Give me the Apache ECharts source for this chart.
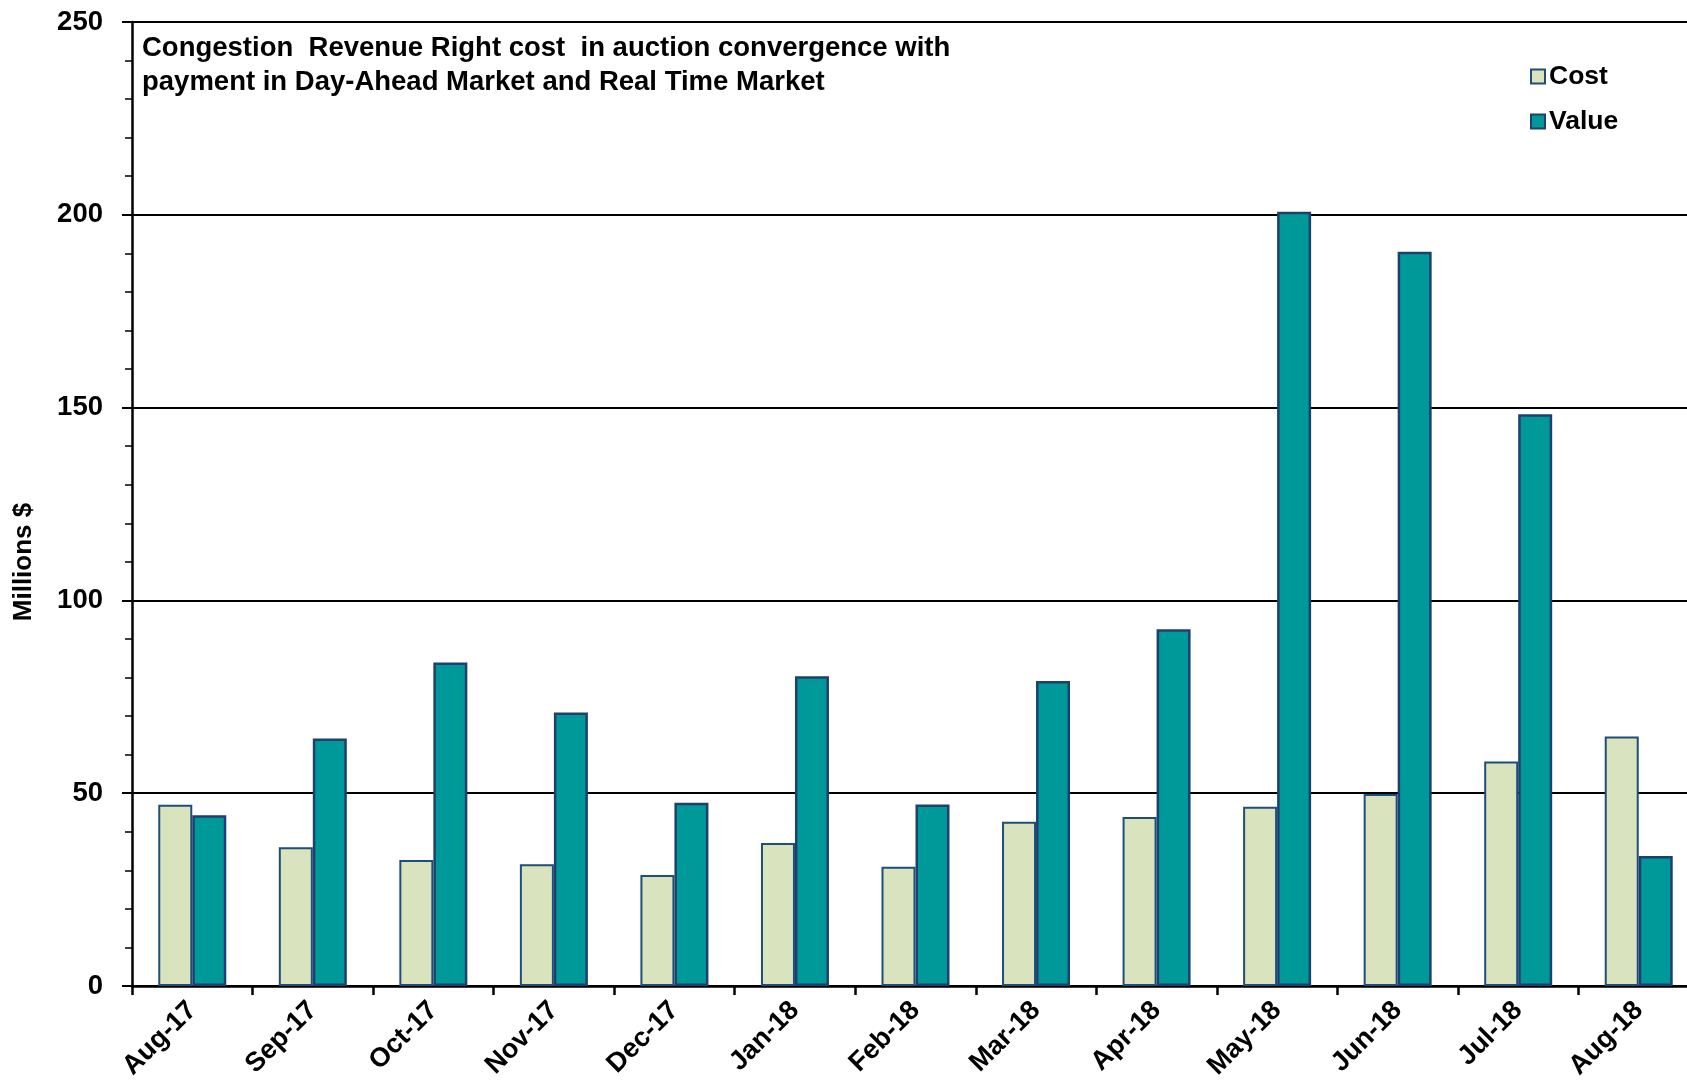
<!DOCTYPE html>
<html>
<head>
<meta charset="utf-8">
<script src="https://cdn.jsdelivr.net/npm/echarts@6/dist/echarts.min.js"></script>
<style>html,body{margin:0;padding:0;background:#fff;}#c{width:1687px;height:1083px;}</style>
</head>
<body>
<div id="c"></div>
<script>
const categories = ['Aug-17','Sep-17','Oct-17','Nov-17','Dec-17','Jan-18','Feb-18','Mar-18','Apr-18','May-18','Jun-18','Jul-18','Aug-18'];
const costValues = [47.0, 36.0, 32.7, 31.6, 28.8, 37.1, 30.9, 42.6, 43.8, 46.5, 49.8, 58.2, 64.7];
const valueValues = [44.3, 64.2, 83.9, 70.9, 47.5, 80.3, 47.1, 79.1, 92.5, 200.8, 190.4, 148.3, 33.7];
const yTicks = [0, 50, 100, 150, 200, 250];
const titleText = 'Congestion  Revenue Right cost  in auction convergence with\npayment in Day-Ahead Market and Real Time Market';
const yAxisTitle = 'Millions $';

const font = 'Liberation Sans, Arial, sans-serif';
const chart = echarts.init(document.getElementById('c'), null, {renderer: 'canvas'});
chart.setOption({
  backgroundColor: '#ffffff',
  animation: false,
  title: {
    text: titleText,
    left: 142, top: 32, padding: 0,
    textStyle: {fontFamily: font, fontWeight: 'bold', fontSize: 27.5, lineHeight: 33.5, color: '#000'}
  },
  legend: {
    orient: 'vertical',
    left: 1530, top: 63, padding: 0,
    itemWidth: 14, itemHeight: 14, itemGap: 18,
    icon: 'rect',
    textStyle: {fontFamily: font, fontWeight: 'bold', fontSize: 26.5, lineHeight: 27, color: '#000', padding: [0,0,0,-1]},
    data: ['Cost', 'Value']
  },
  graphic: [{
    type: 'text',
    x: 24, y: 562, rotation: Math.PI / 2,
    style: {text: yAxisTitle, fontFamily: font, fontWeight: 'bold', fontSize: 26, fill: '#000', align: 'center', verticalAlign: 'middle'}
  }],
  grid: {left: 132, right: -12, top: 22, bottom: 97, containLabel: false, outerBoundsMode: 'none'},
  xAxis: {
    type: 'category',
    data: categories,
    axisLine: {lineStyle: {color: '#000', width: 2.5}},
    axisTick: {show: true, length: 9, lineStyle: {color: '#000', width: 2.5}},
    axisLabel: {rotate: 45, interval: 0, margin: 20, fontFamily: font, fontWeight: 'bold', fontSize: 27, color: '#000'},
    splitLine: {show: false}
  },
  yAxis: {
    type: 'value',
    min: 0, max: 250, interval: 50,
    axisLine: {show: true, lineStyle: {color: '#000', width: 2.5}},
    axisTick: {show: true, length: 10, lineStyle: {color: '#000', width: 2}},
    minorTick: {show: true, splitNumber: 5, length: 7, lineStyle: {color: '#000', width: 1.5}},
    axisLabel: {margin: 29, fontFamily: font, fontWeight: 'bold', fontSize: 27.5, color: '#000',
      formatter: v => yTicks.indexOf(v) >= 0 ? String(v) : ''},
    splitLine: {show: true, lineStyle: {color: '#000', width: 2}}
  },
  series: [
    {
      name: 'Cost', type: 'bar', data: costValues,
      barWidth: 34, barGap: '0%',
      itemStyle: {color: '#D9E4BE', borderColor: '#1F4E79', borderWidth: 2}
    },
    {
      name: 'Value', type: 'bar', data: valueValues,
      barWidth: 34,
      itemStyle: {color: '#009999', borderColor: '#1F3F6F', borderWidth: 2.5}
    }
  ]
});
</script>
</body>
</html>
